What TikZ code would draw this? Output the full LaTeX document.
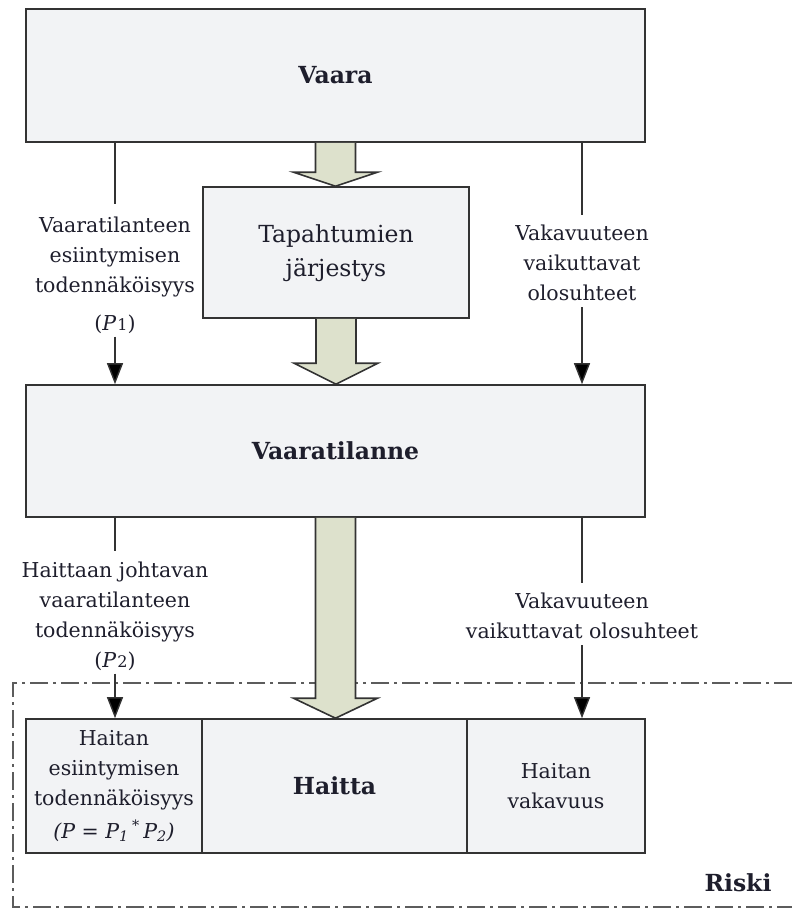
\documentclass[tikz,border=0pt]{standalone}
\usepackage{fontspec}
\setmainfont{DejaVu Serif}
\usetikzlibrary{arrows.meta,calc}
\definecolor{boxfill}{HTML}{F2F3F5}
\definecolor{arrfill}{HTML}{DDE1CC}
\definecolor{edge}{HTML}{333333}
\definecolor{txt}{HTML}{1E1E2C}
\newcommand{\lblfont}{\fontsize{20.5}{30}\selectfont}
\newcommand{\boxfont}{\fontsize{23.5}{34}\selectfont}
\newcommand{\fatarrow}[3]{%
  \draw[fatarrowstyle] let \p1=(#1.south), \p2=(#2.north) in
  (\x1-20pt,\y1) -- (\x1-20pt,\y2+#3) -- (\x1-42pt,\y2+#3) -- (\x1,\y2)
  -- (\x1+42pt,\y2+#3) -- (\x1+20pt,\y2+#3) -- (\x1+20pt,\y1);}
\tikzset{
  box/.style={draw=edge, line width=1.6pt, fill=boxfill, rectangle, inner sep=0pt, align=center, text=txt},
  lbl/.style={align=center, text=txt, font=\lblfont, inner sep=0pt},
  conn/.style={draw=edge, line width=1.4pt},
  arr/.style={conn, -{Triangle[width=16pt,length=21pt,fill=black]}},
  fatarrowstyle/.style={draw=edge, line width=1.6pt, fill=arrfill, line join=miter},
  riskline/.style={draw=edge!80, line width=1.2pt, dash pattern=on 18pt off 5pt on 3pt off 5pt}
}
\begin{document}
\begin{tikzpicture}[x=1pt,y=-1pt]
\useasboundingbox (0,0) rectangle (792,910);
% Riski frame
\coordinate (rtr) at (792,683);
\coordinate (rbr) at (792,907);
\draw[riskline] (rtr) -- (13,683) -- (13,907) -- (rbr);
\node[text=txt, font=\boxfont\bfseries] (riski) at (738,883) {Riski};
% boxes
\node[box, minimum width=619pt, minimum height=133pt, font=\boxfont\bfseries] (vaara) at (335.5,75.5) {Vaara};
\node[box, minimum width=266pt, minimum height=131pt, font=\boxfont] (tap) at (336,252.5) {\raisebox{-4pt}{\begin{tabular}{@{}c@{}}Tapahtumien\\[-0.5pt]järjestys\end{tabular}}};
\node[box, minimum width=619pt, minimum height=132pt, font=\boxfont\bfseries] (vsit) at (335.5,451) {Vaaratilanne};
\node[box, minimum width=176pt, minimum height=134pt, font=\lblfont] (hp) at (114,786)
  {Haitan\\esiintymisen\\todennäköisyys\\[3pt]\textit{(P = P\textsubscript{1}\,\textsuperscript{*}\,P\textsubscript{2})}};
\node[box, minimum width=265pt, minimum height=134pt, font=\boxfont\bfseries] (haitta) at (334.5,786) {Haitta};
\node[box, minimum width=178pt, minimum height=134pt, font=\lblfont] (hv) at (556,786) {Haitan\\vakavuus};
% labels
\node[lbl] (l1) at (115,275) {Vaaratilanteen\\esiintymisen\\todennäköisyys\\[8pt](\textit{P}\kern1pt{\fontsize{16}{16}\selectfont 1})};
\node[lbl] (r1) at (582,263) {Vakavuuteen\\vaikuttavat\\olosuhteet};
\node[lbl] (l2) at (115,616) {Haittaan johtavan\\vaaratilanteen\\todennäköisyys\\(\textit{P}\kern1pt{\fontsize{16}{16}\selectfont 2})};
\node[lbl] (r2) at (582,616) {Vakavuuteen\\vaikuttavat olosuhteet};
% thin connectors
\draw[conn] (vaara.south -| l1) -- ([yshift=12pt]l1.north);
\draw[arr] ([yshift=-3pt]l1.south) -- (l1.south |- vsit.north);
\draw[conn] (vaara.south -| r1) -- ([yshift=10pt]r1.north);
\draw[arr] ([yshift=-6pt]r1.south) -- (r1.south |- vsit.north);
\draw[conn] (vsit.south -| l2) -- ([yshift=10pt]l2.north);
\draw[arr] ([yshift=-3pt]l2.south) -- (l2.south |- hp.north);
\draw[conn] (vsit.south -| r2) -- ([yshift=10pt]r2.north);
\draw[arr] ([yshift=-6pt]r2.south) -- (r2.south |- hv.north);
% fat arrows
\fatarrow{vaara}{tap}{14pt}
\fatarrow{tap}{vsit}{21pt}
\fatarrow{vsit}{haitta}{20pt}
\end{tikzpicture}
\end{document}
